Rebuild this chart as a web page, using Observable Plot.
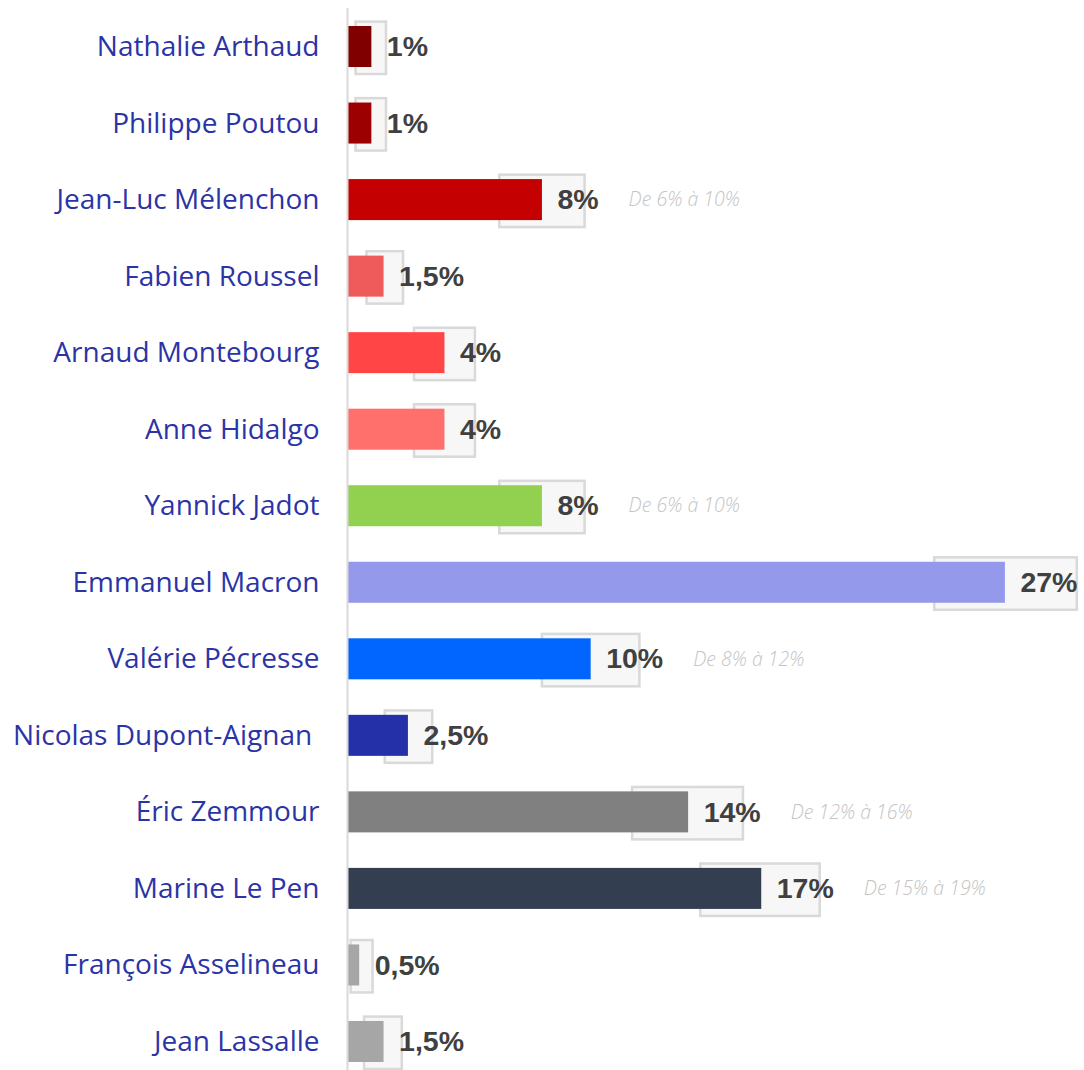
<!DOCTYPE html>
<html><head><meta charset="utf-8">
<script src="https://cdn.jsdelivr.net/npm/d3@7"></script>
<script src="https://cdn.jsdelivr.net/npm/@observablehq/plot@0.6"></script>
<style>body{margin:0;background:#fff}</style>
</head><body><div id="chart"></div>
<script>
const candidates = ["Nathalie Arthaud","Philippe Poutou","Jean-Luc Mélenchon","Fabien Roussel","Arnaud Montebourg","Anne Hidalgo","Yannick Jadot","Emmanuel Macron","Valérie Pécresse","Nicolas Dupont-Aignan\u00a0","Éric Zemmour","Marine Le Pen","François Asselineau","Jean Lassalle"];
const values = [1,1,8,1.5,4,4,8,27,10,2.5,14,17,0.5,1.5];
const valueLabels = ["1%","1%","8%","1,5%","4%","4%","8%","27%","10%","2,5%","14%","17%","0,5%","1,5%"];
const rangeLow = [0.35,0.35,6.25,0.8,2.75,2.75,6.25,24.1,8,1.55,11.7,14.5,0.15,0.7];
const rangeHigh = [1.6,1.6,9.75,2.3,5.25,5.25,9.75,29.95,12,3.5,16.25,19.4,1.05,2.25];
const rangeNotes = ["","","De 6% à 10%","","","","De 6% à 10%","","De 8% à 12%","","De 12% à 16%","De 15% à 19%","",""];
const colors = ["#800000","#9c0000","#c40000","#ef5a5a","#ff4545","#ff6f6b","#92d050","#9499ec","#0066ff","#2430a8","#808080","#333f50","#a6a6a6","#a6a6a6"];

const data = candidates.map((c,i)=>({name:c, value:values[i], label:valueLabels[i], low:rangeLow[i], high:rangeHigh[i], note:rangeNotes[i], color:colors[i]}));

const ctx = document.createElement("canvas").getContext("2d");
ctx.font = "bold 28.5px 'Liberation Sans'";
const pxPer = (1078-347)/30;

const plot = Plot.plot({
  width: 1084, height: 1070,
  marginLeft: 347, marginRight: 6, marginTop: 8, marginBottom: 0,
  x: {domain:[0,30], axis:null},
  y: {domain: candidates, range:[26,1062], paddingInner:0.464, paddingOuter:0, round:false, axis:null},
  style: {background:"#fff"},
  marks: [
    Plot.barX(data, {y:"name", x1:"low", x2:"high", fill:"#f7f7f7", stroke:"#d9d9d9", strokeWidth:2.5, insetTop:-4.4, insetBottom:-7}),
    Plot.barX(data, {y:"name", x1:0, x2:"value", fill:"color"}),
    Plot.ruleX([0], {stroke:"#d9d9d9", strokeWidth:2}),
    Plot.axisY({anchor:"left", tickSize:0, tickPadding:28, fontSize:28, fontFamily:"Open Sans", color:"#2b34a7", label:null}),
    Plot.text(data, {y:"name", x:"value", text:"label", dx:15, textAnchor:"start", fontSize:28.5, fontWeight:"bold", fontFamily:"Liberation Sans", fill:"#404040"}),
    Plot.text(data.filter(d=>d.note), {y:"name", x: d => d.value + (15 + ctx.measureText(d.label).width + 30)/pxPer, text:"note", textAnchor:"start", fontSize:19.5, fontStyle:"italic", fontWeight:300, fontFamily:"Open Sans", fill:"#c4c4c4"})
  ]
});
document.getElementById("chart").appendChild(plot);
</script></body></html>
